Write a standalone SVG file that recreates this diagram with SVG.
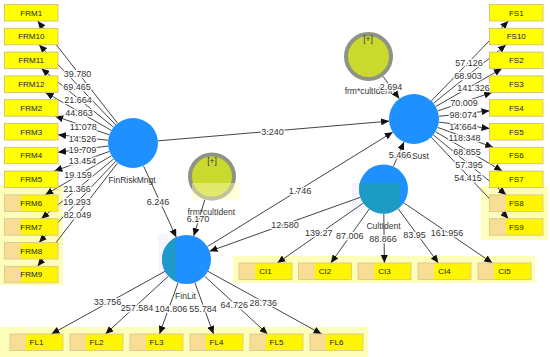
<svg xmlns="http://www.w3.org/2000/svg" width="550" height="357" viewBox="0 0 550 357">
<style>
.ln{stroke:#444;stroke-width:1;fill:none;marker-end:url(#ah)}
.box{fill:#ffff00;stroke:#cdb873;stroke-width:0.8}
.boxf{fill:url(#fade);stroke:#d6c28a;stroke-width:0.8}
.bt{font-family:"Liberation Sans",Arial,sans-serif;font-size:8px;fill:#222;text-anchor:middle}
.ct{font-family:"Liberation Sans",Arial,sans-serif;font-size:8.5px;fill:#333;text-anchor:middle}
.n{font-family:"Liberation Sans",Arial,sans-serif;font-size:9px;fill:#333;text-anchor:middle;stroke:#fff;stroke-width:2.5;stroke-linejoin:round;paint-order:stroke}
.lv{fill:#1e90ff}
.inter{fill:#c9d92e;stroke:#8e9484;stroke-width:4}
.pale{fill:#fefebc}
.vio{fill:#f8f4fe}
</style>
<defs>
<marker id="ah" markerUnits="userSpaceOnUse" markerWidth="8" markerHeight="7" refX="8" refY="3.5" orient="auto">
<path d="M0,0 L8,3.5 L0,7 Z" fill="#111"/>
</marker>
<linearGradient id="fade" x1="0" y1="0" x2="1" y2="0">
<stop offset="0" stop-color="#f8de94"/>
<stop offset="0.3" stop-color="#f8de94"/>
<stop offset="0.31" stop-color="#fff500"/>
<stop offset="1" stop-color="#fff500"/>
</linearGradient>
<clipPath id="clipC"><circle cx="383.5" cy="189" r="24.5"/></clipPath>
<clipPath id="clipL"><circle cx="186.5" cy="259.5" r="24.5"/></clipPath>
</defs>
<rect width="550" height="357" fill="#fff"/>

<g id="highlights">
<rect class="pale" x="0" y="185" width="63" height="100"/>
<rect class="pale" x="481" y="186" width="67" height="54"/>
<rect class="pale" x="233" y="256" width="302" height="27"/>
<rect class="pale" x="0" y="327" width="368" height="30"/>
<rect class="vio" x="352" y="183" width="10" height="31"/>
<rect class="vio" x="158" y="234" width="10" height="50"/>
</g>

<g id="connectors">
<line class="ln" x1="117.61" y1="123.30" x2="37.69" y2="21.0"/>
<line class="ln" x1="115.73" y1="124.93" x2="39.13" y2="44.8"/>
<line class="ln" x1="113.60" y1="127.24" x2="41.40" y2="68.6"/>
<line class="ln" x1="111.36" y1="130.48" x2="45.51" y2="92.4"/>
<line class="ln" x1="109.36" y1="134.86" x2="55.20" y2="116.2"/>
<line class="ln" x1="108.15" y1="140.25" x2="58.00" y2="134.7"/>
<line class="ln" x1="108.19" y1="146.06" x2="58.00" y2="152.25"/>
<line class="ln" x1="109.46" y1="151.41" x2="54.34" y2="171.1"/>
<line class="ln" x1="111.48" y1="155.72" x2="45.21" y2="194.9"/>
<line class="ln" x1="113.72" y1="158.91" x2="41.25" y2="218.7"/>
<line class="ln" x1="115.84" y1="161.18" x2="39.04" y2="242.5"/>
<line class="ln" x1="117.70" y1="162.78" x2="37.63" y2="266.3"/>

<line class="ln" x1="431.34" y1="100.99" x2="508.31" y2="21.0"/>
<line class="ln" x1="433.46" y1="103.31" x2="506.02" y2="44.8"/>
<line class="ln" x1="435.69" y1="106.56" x2="501.87" y2="68.6"/>
<line class="ln" x1="437.66" y1="110.94" x2="492.05" y2="92.4"/>
<line class="ln" x1="438.85" y1="116.31" x2="489.50" y2="110.84"/>
<line class="ln" x1="438.81" y1="122.09" x2="489.50" y2="128.41"/>
<line class="ln" x1="437.54" y1="127.41" x2="493.17" y2="147.3"/>
<line class="ln" x1="435.53" y1="131.71" x2="502.27" y2="171.1"/>
<line class="ln" x1="433.30" y1="134.89" x2="506.23" y2="194.9"/>
<line class="ln" x1="431.19" y1="137.15" x2="508.44" y2="218.7"/>

<line class="ln" x1="363.40" y1="203.01" x2="277.34" y2="263"/>
<line class="ln" x1="369.30" y1="208.97" x2="330.87" y2="263"/>
<line class="ln" x1="383.80" y1="213.50" x2="384.40" y2="263"/>
<line class="ln" x1="398.09" y1="208.68" x2="438.38" y2="263"/>
<line class="ln" x1="403.76" y1="202.77" x2="492.36" y2="263"/>

<line class="ln" x1="165.05" y1="271.33" x2="51.45" y2="334"/>
<line class="ln" x1="168.47" y1="276.08" x2="105.47" y2="334"/>
<line class="ln" x1="178.15" y1="282.53" x2="159.49" y2="334"/>
<line class="ln" x1="194.85" y1="282.53" x2="213.51" y2="334"/>
<line class="ln" x1="204.53" y1="276.08" x2="267.53" y2="334"/>
<line class="ln" x1="207.95" y1="271.33" x2="321.55" y2="334"/>

<line class="ln" x1="157.91" y1="140.87" x2="389.09" y2="121.13"/>
<line class="ln" x1="382.92" y1="76.31" x2="399.29" y2="98.79"/>
<line class="ln" x1="393.29" y1="166.54" x2="404.02" y2="141.92"/>
<line class="ln" x1="143.43" y1="165.72" x2="176.28" y2="237.24"/>
<line class="ln" x1="204.95" y1="199.44" x2="193.70" y2="236.08"/>
<line class="ln" x1="207.34" y1="246.63" x2="392.73" y2="132.14"/>
<line class="ln" x1="360.43" y1="197.25" x2="209.57" y2="251.25"/>
</g>

<g id="FinRiskMngt">
<circle class="lv" cx="133" cy="143" r="25"/>
<text class="ct" x="132" y="182.8">FinRiskMngt</text>
</g>
<g id="FinSust">
<circle class="lv" cx="414" cy="119" r="25"/>
<text class="ct" x="414.5" y="158.5">FinSust</text>
</g>
<g id="CultIdent">
<circle class="lv" cx="383.5" cy="189" r="24.5"/>
<rect x="355" y="183" width="45" height="32" fill="#1c9cc4" clip-path="url(#clipC)"/>
<text class="ct" x="383.5" y="228.5">CultIdent</text>
</g>
<g id="FinLit">
<circle class="lv" cx="186.5" cy="259.5" r="24.5"/>
<rect x="160" y="234" width="16" height="52" fill="#1f99cc" clip-path="url(#clipL)"/>
<text class="ct" x="185.5" y="298.5">FinLit</text>
</g>
<g id="frm_cultIdent_1">
<circle class="inter" cx="368.5" cy="56.5" r="22.5"/>
<text class="ct" x="368" y="41.7">[+]</text>
<text class="ct" x="368.5" y="94">frm*cultIdent</text>
</g>
<g id="frm_cultIdent_2">
<circle class="inter" cx="212" cy="176.5" r="22"/>
<rect x="192" y="183" width="48" height="17" fill="#fefeb6" opacity="0.45"/>
<text class="ct" x="212" y="164">[+]</text>
<text class="ct" x="211.3" y="215">frm*cultIdent</text>
</g>

<g id="FRM1"><rect class="box" x="4.5" y="4.5" width="53.5" height="16.5"/><text class="bt" x="31.25" y="15.65">FRM1</text></g>
<g id="FRM10"><rect class="box" x="4.5" y="28.3" width="53.5" height="16.5"/><text class="bt" x="31.25" y="39.45">FRM10</text></g>
<g id="FRM11"><rect class="box" x="4.5" y="52.1" width="53.5" height="16.5"/><text class="bt" x="31.25" y="63.25">FRM11</text></g>
<g id="FRM12"><rect class="box" x="4.5" y="75.9" width="53.5" height="16.5"/><text class="bt" x="31.25" y="87.05">FRM12</text></g>
<g id="FRM2"><rect class="box" x="4.5" y="99.7" width="53.5" height="16.5"/><text class="bt" x="31.25" y="110.85">FRM2</text></g>
<g id="FRM3"><rect class="box" x="4.5" y="123.5" width="53.5" height="16.5"/><text class="bt" x="31.25" y="134.65">FRM3</text></g>
<g id="FRM4"><rect class="box" x="4.5" y="147.3" width="53.5" height="16.5"/><text class="bt" x="31.25" y="158.45">FRM4</text></g>
<g id="FRM5"><rect class="box" x="4.5" y="171.1" width="53.5" height="16.5"/><text class="bt" x="31.25" y="182.25">FRM5</text></g>
<g id="FRM6"><rect class="boxf" x="4.5" y="194.9" width="53.5" height="16.5"/><text class="bt" x="31.25" y="206.05">FRM6</text></g>
<g id="FRM7"><rect class="boxf" x="4.5" y="218.7" width="53.5" height="16.5"/><text class="bt" x="31.25" y="229.85">FRM7</text></g>
<g id="FRM8"><rect class="boxf" x="4.5" y="242.5" width="53.5" height="16.5"/><text class="bt" x="31.25" y="253.65">FRM8</text></g>
<g id="FRM9"><rect class="boxf" x="4.5" y="266.3" width="53.5" height="16.5"/><text class="bt" x="31.25" y="277.45">FRM9</text></g>

<g id="FS1"><rect class="box" x="489.5" y="4.5" width="53.5" height="16.5"/><text class="bt" x="516.25" y="15.65">FS1</text></g>
<g id="FS10"><rect class="box" x="489.5" y="28.3" width="53.5" height="16.5"/><text class="bt" x="516.25" y="39.45">FS10</text></g>
<g id="FS2"><rect class="box" x="489.5" y="52.1" width="53.5" height="16.5"/><text class="bt" x="516.25" y="63.25">FS2</text></g>
<g id="FS3"><rect class="box" x="489.5" y="75.9" width="53.5" height="16.5"/><text class="bt" x="516.25" y="87.05">FS3</text></g>
<g id="FS4"><rect class="box" x="489.5" y="99.7" width="53.5" height="16.5"/><text class="bt" x="516.25" y="110.85">FS4</text></g>
<g id="FS5"><rect class="box" x="489.5" y="123.5" width="53.5" height="16.5"/><text class="bt" x="516.25" y="134.65">FS5</text></g>
<g id="FS6"><rect class="box" x="489.5" y="147.3" width="53.5" height="16.5"/><text class="bt" x="516.25" y="158.45">FS6</text></g>
<g id="FS7"><rect class="box" x="489.5" y="171.1" width="53.5" height="16.5"/><text class="bt" x="516.25" y="182.25">FS7</text></g>
<g id="FS8"><rect class="boxf" x="489.5" y="194.9" width="53.5" height="16.5"/><text class="bt" x="516.25" y="206.05">FS8</text></g>
<g id="FS9"><rect class="boxf" x="489.5" y="218.7" width="53.5" height="16.5"/><text class="bt" x="516.25" y="229.85">FS9</text></g>

<g id="CI1"><rect class="boxf" x="239" y="263" width="53" height="16.5"/><text class="bt" x="265.5" y="274.15">CI1</text></g>
<g id="CI2"><rect class="boxf" x="298.5" y="263" width="53" height="16.5"/><text class="bt" x="325" y="274.15">CI2</text></g>
<g id="CI3"><rect class="boxf" x="358" y="263" width="53" height="16.5"/><text class="bt" x="384.5" y="274.15">CI3</text></g>
<g id="CI4"><rect class="boxf" x="418" y="263" width="53" height="16.5"/><text class="bt" x="444.5" y="274.15">CI4</text></g>
<g id="CI5"><rect class="boxf" x="478" y="263" width="53" height="16.5"/><text class="bt" x="504.5" y="274.15">CI5</text></g>

<g id="FL1"><rect class="boxf" x="10" y="334" width="53" height="16.5"/><text class="bt" x="36.5" y="345.15">FL1</text></g>
<g id="FL2"><rect class="boxf" x="70" y="334" width="53" height="16.5"/><text class="bt" x="96.5" y="345.15">FL2</text></g>
<g id="FL3"><rect class="boxf" x="130" y="334" width="53" height="16.5"/><text class="bt" x="156.5" y="345.15">FL3</text></g>
<g id="FL4"><rect class="boxf" x="190" y="334" width="53" height="16.5"/><text class="bt" x="216.5" y="345.15">FL4</text></g>
<g id="FL5"><rect class="boxf" x="250" y="334" width="53" height="16.5"/><text class="bt" x="276.5" y="345.15">FL5</text></g>
<g id="FL6"><rect class="boxf" x="310" y="334" width="53" height="16.5"/><text class="bt" x="336.5" y="345.15">FL6</text></g>

<g id="edge-labels">
<text class="n" x="77.5" y="77.3">39.780</text>
<text class="n" x="77" y="90">69.465</text>
<text class="n" x="78" y="103">21.664</text>
<text class="n" x="79" y="116">44.863</text>
<text class="n" x="83.3" y="130">11.078</text>
<text class="n" x="82.5" y="141.5">14.526</text>
<text class="n" x="82.5" y="152.7">19.709</text>
<text class="n" x="82.5" y="164.3">13.454</text>
<text class="n" x="78" y="178.3">19.159</text>
<text class="n" x="77" y="191.7">21.366</text>
<text class="n" x="77" y="205">19.293</text>
<text class="n" x="77.5" y="217.7">82.049</text>

<text class="n" x="469" y="66">57.126</text>
<text class="n" x="468" y="79">68.903</text>
<text class="n" x="473.5" y="91">141.326</text>
<text class="n" x="464" y="106">70.009</text>
<text class="n" x="463.3" y="118.3">98.074</text>
<text class="n" x="463" y="130">14.664</text>
<text class="n" x="464.5" y="140.7">118.348</text>
<text class="n" x="467" y="155">68.855</text>
<text class="n" x="469" y="167.7">57.395</text>
<text class="n" x="468" y="180.7">54.415</text>

<text class="n" x="318.8" y="236">139.27</text>
<text class="n" x="349.7" y="239">87.006</text>
<text class="n" x="383" y="241.5">88.866</text>
<text class="n" x="414.6" y="238.3">83.95</text>
<text class="n" x="447" y="236">161.956</text>

<text class="n" x="107.5" y="305">33.756</text>
<text class="n" x="137" y="310.7">257.584</text>
<text class="n" x="171" y="312.3">104.806</text>
<text class="n" x="203" y="312.3">55.784</text>
<text class="n" x="234.3" y="308.3">64.726</text>
<text class="n" x="263.3" y="306">28.736</text>

<text class="n" x="272.5" y="135.3">3.240</text>
<text class="n" x="391" y="90">2.694</text>
<text class="n" x="400" y="158.3">5.466</text>
<text class="n" x="158" y="205">6.246</text>
<text class="n" x="198" y="221.7">6.170</text>
<text class="n" x="300" y="194">1.746</text>
<text class="n" x="285" y="228.3">12.580</text>
</g>
</svg>
